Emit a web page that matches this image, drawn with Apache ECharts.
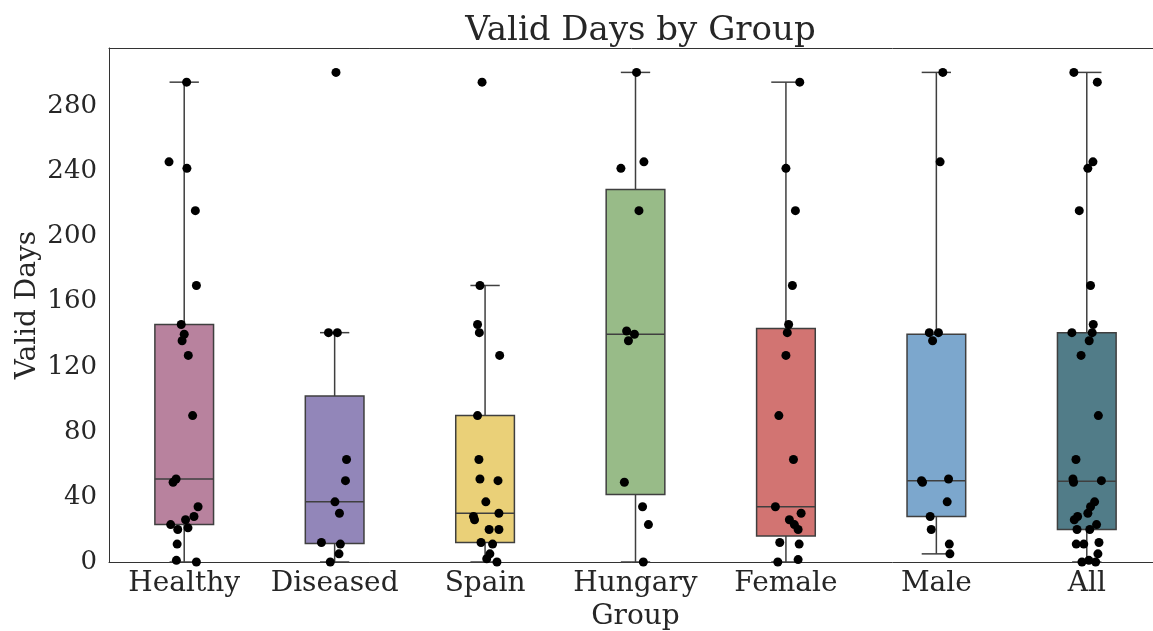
<!DOCTYPE html>
<html>
<head>
<meta charset="utf-8">
<script src="https://cdn.jsdelivr.net/npm/echarts@6/dist/echarts.min.js"></script>
<style>
html,body{margin:0;padding:0;background:#fff;}
#chart{width:1153px;height:631px;}
</style>
</head>
<body>
<div id="chart"></div>
<script>
// ---- data ----
const categories = ['Healthy', 'Diseased', 'Spain', 'Hungary', 'Female', 'Male', 'All'];
const yTicks = [0, 40, 80, 120, 160, 200, 240, 280];
const boxColors = ['#b8829e', '#9286b9', '#ead078', '#98bb88', '#d27472', '#7ca7cd', '#517c88'];

// [whiskerLow, Q1, median, Q3, whiskerHigh]
const boxStats = [
  [0, 23, 51, 146, 295],
  [0, 11.3, 37, 102, 141],
  [0, 12, 30, 90, 170],
  [0, 41.5, 140, 229, 301],
  [0, 16, 34, 143.6, 295],
  [5, 28, 50, 140, 301],
  [0, 20, 49.7, 141, 301]
];

// observed values per group
const healthyVals  = [295, 246, 242, 216, 170, 146, 140, 136, 127, 90, 51, 49, 34, 28, 26, 23, 20, 21, 11, 1, 0];
const diseasedVals = [301, 141, 141, 63, 50, 37, 30, 12, 11, 5, 0];
const spainVals    = [295, 170, 146, 141, 127, 90, 63, 51, 50, 37, 30, 28, 26, 20, 20, 12, 11, 5, 2, 0];
const hungaryVals  = [301, 242, 246, 216, 142, 140, 136, 49, 34, 23, 0];
const femaleVals   = [295, 242, 216, 170, 146, 141, 127, 90, 63, 34, 30, 26, 23, 20, 12, 11, 0, 1.5];
const maleVals     = [301, 246, 141, 141, 136, 50, 49, 51, 37, 28, 20, 11, 5];
const allVals      = [301, 295, 246, 242, 216, 170, 146, 141, 141, 136, 127, 90, 63, 51, 49, 50, 37, 34, 30, 28, 26, 23, 20, 20, 11, 11, 12, 5, 0, 1, 0];

// strip-plot jitter (category units)
const healthyJit  = [0.016, -0.101, 0.018, 0.074, 0.081, -0.020, 0, -0.014, 0.027, 0.056, -0.054, -0.074, 0.092, 0.065, 0.009, -0.090, -0.043, 0.025, -0.047, -0.052, 0.081];
const diseasedJit = [0.009, -0.041, 0.018, 0.079, 0.072, 0.002, 0.032, -0.088, 0.038, 0.029, -0.029];
const spainJit    = [-0.020, -0.034, -0.050, -0.038, 0.097, -0.050, -0.041, -0.034, 0.086, 0.005, 0.092, -0.077, -0.070, 0.027, 0.092, -0.027, 0.050, 0.032, 0.011, 0.079];
const hungaryJit  = [0.007, -0.097, 0.056, 0.023, -0.059, -0.007, -0.047, -0.074, 0.047, 0.086, 0.052];
const femaleJit   = [0.092, 0, 0.063, 0.043, 0.018, 0.009, 0, -0.047, 0.050, -0.070, 0.101, 0.023, 0.056, 0.081, -0.041, 0.088, -0.054, 0.081];
const maleJit     = [0.043, 0.025, -0.047, 0.014, -0.025, -0.099, -0.092, 0.081, 0.072, -0.041, -0.034, 0.086, 0.090];
const allJit      = [-0.086, 0.070, 0.041, 0.007, -0.050, 0.025, 0.043, -0.099, 0.036, 0.016, -0.038, 0.077, -0.072, -0.092, -0.088, 0.097, 0.052, 0.025, 0.007, -0.061, -0.083, 0.065, -0.065, 0.020, -0.070, -0.020, 0.081, 0.074, -0.032, 0.014, 0.059];

const groupVals = [healthyVals, diseasedVals, spainVals, hungaryVals, femaleVals, maleVals, allVals];
const groupJit  = [healthyJit, diseasedJit, spainJit, hungaryJit, femaleJit, maleJit, allJit];

// ---- build ----
const boxData = boxStats.map((s, i) => [i].concat(s));
const pointData = [];
groupVals.forEach((vals, i) => {
  vals.forEach((v, k) => pointData.push([i + (groupJit[i][k] || 0), v]));
});

const FONT = 'DejaVu Serif';
const TXT = '#262626';
const EDGE = '#3f3f3f';
const SPINE = '#333333';

const chart = echarts.init(document.getElementById('chart'), null, {renderer: 'canvas'});
chart.setOption({
  animation: false,
  title: {
    text: 'Valid Days by Group',
    left: 635.5,
    textAlign: 'center',
    top: 9,
    textStyle: {fontFamily: FONT, fontSize: 34, fontWeight: 'normal', color: TXT}
  },
  grid: {
    left: 109, top: 48, width: 1053, height: 514,
    show: false,
    containLabel: false,
    outerBoundsMode: 'none'
  },
  xAxis: [
    {
      type: 'category',
      data: categories,
      boundaryGap: true,
      position: 'bottom',
      name: 'Group',
      nameLocation: 'middle',
      nameGap: 41,
      nameMoveOverlap: false,
      nameTextStyle: {fontFamily: FONT, fontSize: 28, color: TXT},
      axisLine: {show: true, onZero: false, lineStyle: {color: SPINE, width: 1}},
      axisTick: {show: false},
      axisLabel: {fontFamily: FONT, fontSize: 28, color: TXT, margin: 8, interval: 0, hideOverlap: false},
      splitLine: {show: false}
    },
    {
      type: 'value',
      min: -0.5, max: 6.5,
      position: 'top',
      axisLine: {show: true, onZero: false, lineStyle: {color: SPINE, width: 1}},
      axisTick: {show: false},
      axisLabel: {show: false},
      splitLine: {show: false}
    }
  ],
  yAxis: {
    type: 'value',
    min: 0, max: 316, interval: 40,
    name: 'Valid Days',
    nameLocation: 'middle',
    nameGap: 67,
    nameMoveOverlap: false,
    nameTextStyle: {fontFamily: FONT, fontSize: 28, color: TXT},
    axisLine: {show: true, onZero: false, lineStyle: {color: SPINE, width: 1}},
    axisTick: {show: false},
    axisLabel: {
      fontFamily: FONT, fontSize: 26, color: TXT, margin: 12,
      formatter: v => (yTicks.indexOf(v) >= 0 ? String(v) : '')
    },
    splitLine: {show: false}
  },
  series: [
    {
      type: 'custom',
      xAxisIndex: 0,
      z: 2,
      data: boxData,
      encode: {x: 0, y: [1, 2, 3, 4, 5]},
      renderItem: function (params, api) {
        const i = api.value(0);
        const lo = api.coord([i, api.value(1)]);
        const q1 = api.coord([i, api.value(2)]);
        const md = api.coord([i, api.value(3)]);
        const q3 = api.coord([i, api.value(4)]);
        const hi = api.coord([i, api.value(5)]);
        const band = api.size([1, 0])[0];
        const bw = band * 0.39;
        const cw = bw / 2;
        const x = lo[0];
        const ls = {stroke: EDGE, lineWidth: 1.5};
        return {
          type: 'group',
          children: [
            {type: 'line', shape: {x1: x, y1: q3[1], x2: x, y2: hi[1]}, style: ls},
            {type: 'line', shape: {x1: x, y1: q1[1], x2: x, y2: lo[1]}, style: ls},
            {type: 'line', shape: {x1: x - cw / 2, y1: hi[1], x2: x + cw / 2, y2: hi[1]}, style: ls},
            {type: 'line', shape: {x1: x - cw / 2, y1: lo[1], x2: x + cw / 2, y2: lo[1]}, style: ls},
            {type: 'rect', shape: {x: x - bw / 2, y: q3[1], width: bw, height: q1[1] - q3[1]},
              style: {fill: boxColors[params.dataIndex], stroke: EDGE, lineWidth: 1.5}},
            {type: 'line', shape: {x1: x - bw / 2, y1: md[1], x2: x + bw / 2, y2: md[1]}, style: ls}
          ]
        };
      }
    },
    {
      type: 'scatter',
      xAxisIndex: 1,
      z: 3,
      symbol: 'circle',
      symbolSize: 9,
      itemStyle: {color: '#000', opacity: 1},
      data: pointData
    }
  ]
});
</script>
</body>
</html>
